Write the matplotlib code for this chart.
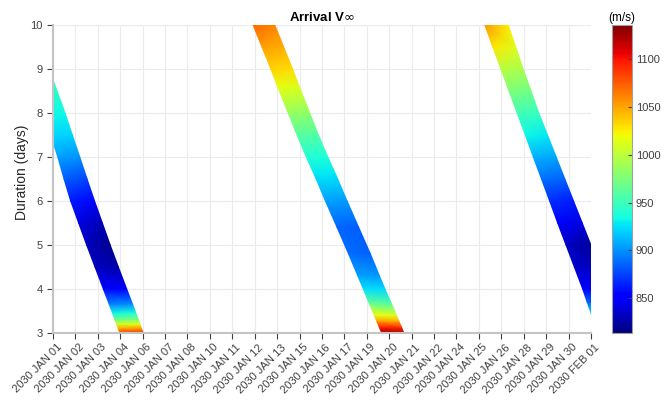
import matplotlib as mpl
import matplotlib.pyplot as plt
import matplotlib.transforms as mtransforms
import numpy as np

mpl.use('Agg')
plt.rcParams['font.family'] = ['Liberation Sans', 'DejaVu Sans']
plt.rcParams['mathtext.fontset'] = 'dejavusans'

# x axis: days after 2030 JAN 01 00:00
tick_days = np.linspace(0, 31, 25)
tick_labels = [
    '2030 JAN 01', '2030 JAN 02', '2030 JAN 03', '2030 JAN 04', '2030 JAN 06',
    '2030 JAN 07', '2030 JAN 08', '2030 JAN 10', '2030 JAN 11', '2030 JAN 12',
    '2030 JAN 13', '2030 JAN 15', '2030 JAN 16', '2030 JAN 17', '2030 JAN 19',
    '2030 JAN 20', '2030 JAN 21', '2030 JAN 22', '2030 JAN 24', '2030 JAN 25',
    '2030 JAN 26', '2030 JAN 28', '2030 JAN 29', '2030 JAN 30', '2030 FEB 01',
]
dur_ticks = [3, 4, 5, 6, 7, 8, 9, 10]
cbar_ticks = [850, 900, 950, 1000, 1050, 1100]
v_min, v_max = 814, 1135

# band 1 - departures JAN 01..JAN 06
dur_a = [3.0, 3.1, 3.2, 3.3, 3.45, 3.65, 4.0, 4.5, 5.0, 5.5, 6.0, 6.5, 7.0, 7.5, 8.0, 8.8]
lo_a = [3.86, 3.76, 3.67, 3.57, 3.43, 3.24, 2.90, 2.42, 1.94, 1.48, 1.02, 0.64, 0.28, -0.13, -0.55, -1.25]
hi_a = [5.20, 5.10, 5.01, 4.92, 4.78, 4.59, 4.25, 3.77, 3.30, 2.85, 2.40, 1.97, 1.55, 1.12, 0.70, -0.03]
v_lo_a = [1085, 1048, 1008, 970, 932, 895, 855, 832, 832, 842, 862, 884, 905, 922, 932, 946]
v_hi_a = [1092, 1055, 1015, 978, 940, 900, 852, 826, 818, 828, 852, 876, 900, 920, 933, 950]

# band 2 - departures JAN 12..JAN 21
dur_b = [3.0, 3.13, 3.27, 3.4, 3.65, 4.0, 4.3, 4.8, 5.4, 6.0, 6.6, 7.0, 7.5, 8.0, 8.6, 9.0, 9.5, 10.0]
lo_b = [18.94, 18.80, 18.65, 18.52, 18.25, 17.88, 17.56, 17.03, 16.37, 15.70, 15.06, 14.60,
        14.07, 13.56, 12.95, 12.56, 12.05, 11.54]
hi_b = [20.22, 20.08, 19.93, 19.79, 19.52, 19.13, 18.81, 18.29, 17.62, 16.95, 16.30, 15.84,
        15.30, 14.80, 14.20, 13.81, 13.30, 12.79]
v_lo_b = [1125, 1095, 1052, 1018, 968, 925, 905, 888, 886, 905, 928, 940, 960, 985, 1016, 1034, 1052, 1070]
v_hi_b = [1120, 1090, 1046, 1012, 962, 922, 902, 885, 884, 903, 926, 938, 957, 981, 1012, 1030, 1046, 1060]

# band 3 - departures JAN 25..FEB 01
dur_c = [3.0, 3.45, 3.7, 4.0, 4.5, 5.0, 5.5, 6.0, 6.5, 7.0, 7.5, 8.0, 8.5, 9.0, 9.5, 10.0]
lo_c = [31.4, 31.0, 30.78, 30.52, 30.04, 29.56, 29.08, 28.62, 28.15, 27.68, 27.22, 26.75,
        26.28, 25.82, 25.35, 24.89]
hi_c = [32.9, 32.45, 32.2, 31.95, 31.48, 31.0, 30.5, 30.0, 29.5, 29.0, 28.5, 28.0,
        27.55, 27.1, 26.67, 26.24]
v_lo_c = [970, 925, 885, 855, 836, 834, 850, 868, 890, 910, 932, 953, 975, 998, 1028, 1055]
v_hi_c = [965, 920, 878, 848, 828, 822, 842, 862, 885, 906, 928, 948, 970, 992, 1012, 1025]


def draw_band(ax, dur, lo, hi, v_lo, v_hi):
    X = np.column_stack([lo, hi])
    Y = np.column_stack([dur, dur])
    C = np.column_stack([v_lo, v_hi])
    return ax.pcolormesh(X, Y, C, shading='gouraud', cmap='jet',
                         vmin=v_min, vmax=v_max, zorder=2)


fig = plt.figure(figsize=(6.7, 4.01), dpi=100)
ax = fig.add_axes([0.079, 0.170, 0.803, 0.767])
cax = fig.add_axes([0.913, 0.170, 0.030, 0.767])

draw_band(ax, dur_a, lo_a, hi_a, v_lo_a, v_hi_a)
draw_band(ax, dur_b, lo_b, hi_b, v_lo_b, v_hi_b)
im = draw_band(ax, dur_c, lo_c, hi_c, v_lo_c, v_hi_c)

ax.set_xlim(0, 31)
ax.set_ylim(3, 10)
ax.set_xticks(tick_days)
ax.set_xticklabels([])
ax.set_yticks(dur_ticks)
ax.set_axisbelow(True)
ax.grid(True, color='#ebebeb', linewidth=0.8)

# rotated date labels, anchored just right of each tick
lab_trans = ax.get_xaxis_transform() + mtransforms.ScaledTranslation(
    0.07, -0.13, fig.dpi_scale_trans)
for x, lab in zip(tick_days, tick_labels):
    ax.text(x, 0, lab, transform=lab_trans, rotation=45, ha='right', va='center',
            rotation_mode='anchor', fontsize=8, color='#404040', clip_on=False)

for side in ['top', 'right']:
    ax.spines[side].set_visible(False)
for side in ['left', 'bottom']:
    ax.spines[side].set_color('#c4c4c4')
    ax.spines[side].set_linewidth(1.5)
ax.tick_params(colors='#404040', labelsize=8, length=4, width=0.8)
for t in ax.get_xticklines() + ax.get_yticklines():
    t.set_color('#a0a0a0')

ax.set_ylabel('Duration (days)', fontsize=10, color='#262626')
ax.yaxis.set_label_coords(-0.045, 0.523)
ax.set_title(r'Arrival V$\infty$', fontsize=9.5, fontweight='bold', pad=3)

cb = fig.colorbar(im, cax=cax, ticks=cbar_ticks)
cb.outline.set_edgecolor('#a0a0a0')
cb.outline.set_linewidth(0.8)
cax.tick_params(labelsize=8, colors='#404040', direction='in', length=3,
                width=0.8, pad=3)
cax.set_title('(m/s)', fontsize=8.5, pad=3)

fig.savefig('out.png', dpi=100)
